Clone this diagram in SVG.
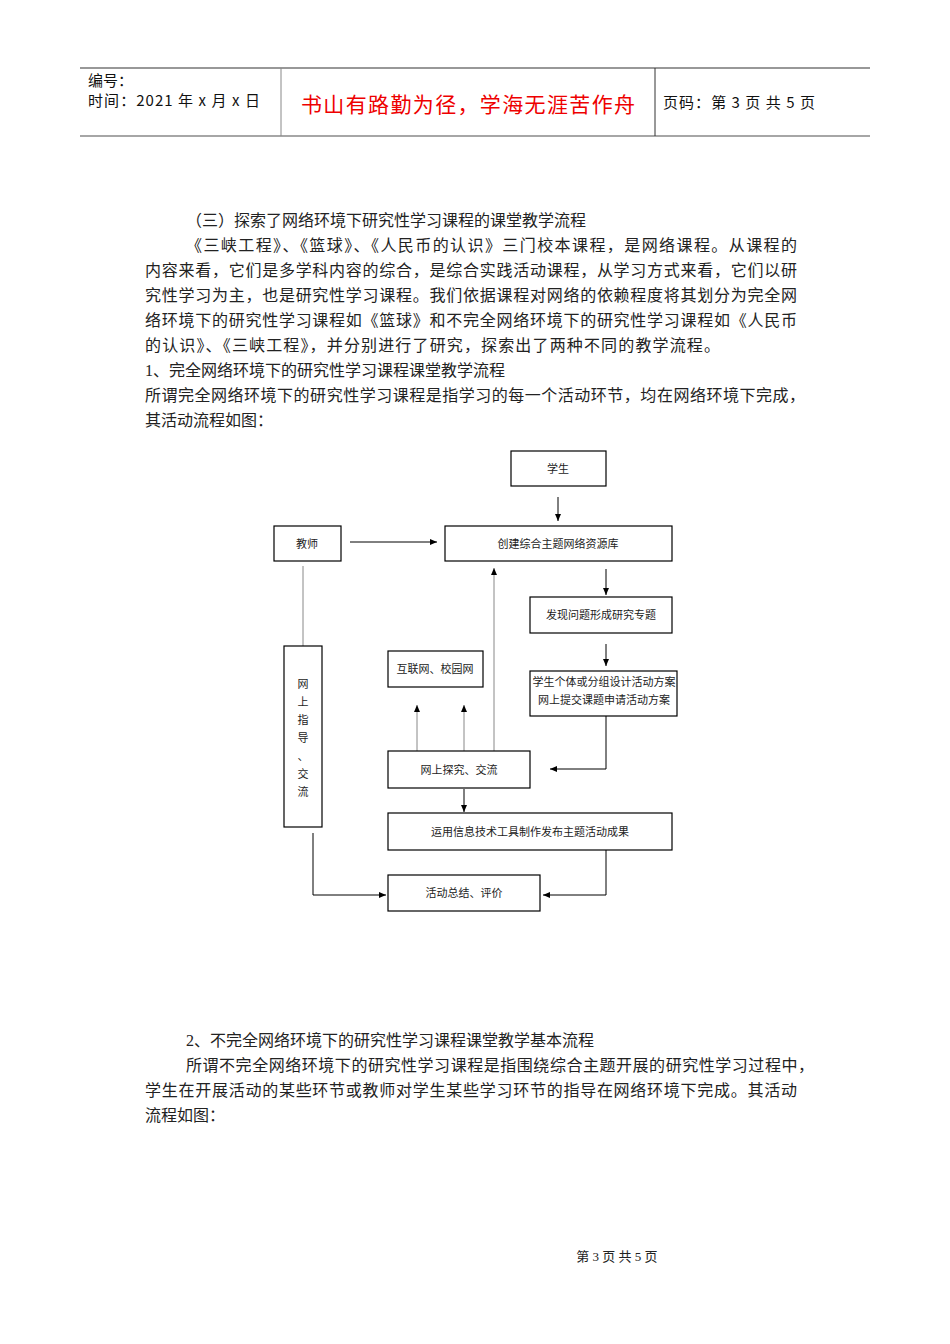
<svg xmlns="http://www.w3.org/2000/svg" width="950" height="1344" viewBox="0 0 950 1344">
<style>
.b{fill:#fff;stroke:#000;stroke-width:1.2}
.t{font-family:"Liberation Serif","Noto Sans CJK SC",serif;font-size:16px;fill:#222}
.s{font-family:"Noto Sans CJK SC",sans-serif;font-size:11px;fill:#222;text-anchor:middle}
.h{font-family:"Noto Sans CJK SC",sans-serif;font-size:15px;fill:#111}
.l{stroke:#000;stroke-width:1;fill:none}
.g{stroke:#888;stroke-width:1;fill:none}
</style>
<defs><marker id="a" markerWidth="8" markerHeight="8" refX="7" refY="4" orient="auto" markerUnits="userSpaceOnUse"><path d="M0,1 L7,4 L0,7z" fill="#000"/></marker></defs>
<rect width="950" height="1344" fill="#fff"/>
<g id="header">
<line x1="80" y1="68" x2="870" y2="68" stroke="#333" stroke-width="1.2"/>
<line x1="80" y1="136" x2="870" y2="136" stroke="#888" stroke-width="1.5"/>
<line x1="281" y1="68" x2="281" y2="136" stroke="#888"/>
<line x1="655" y1="68" x2="655" y2="136" stroke="#333"/>
<text class="h" x="88" y="86">编号：</text>
<text class="h" x="88" y="106" textLength="172">时间：2021 年 x 月 x 日</text>
<text x="301" y="112" font-family="Noto Sans CJK SC,sans-serif" font-size="21" fill="#e00" textLength="334">书山有路勤为径，学海无涯苦作舟</text>
<text class="h" x="663" y="108" textLength="152">页码：第 3 页  共 5 页</text>
</g>
<g id="body" class="t">
<text x="186" y="226">（三）探索了网络环境下研究性学习课程的课堂教学流程</text>
<text x="186" y="251" textLength="611">《三峡工程》、《篮球》、《人民币的认识》三门校本课程，是网络课程。从课程的</text>
<text x="145" y="276" textLength="652">内容来看，它们是多学科内容的综合，是综合实践活动课程，从学习方式来看，它们以研</text>
<text x="145" y="301" textLength="652">究性学习为主，也是研究性学习课程。我们依据课程对网络的依赖程度将其划分为完全网</text>
<text x="145" y="326" textLength="652">络环境下的研究性学习课程如《篮球》和不完全网络环境下的研究性学习课程如《人民币</text>
<text x="145" y="351" textLength="575">的认识》、《三峡工程》，并分别进行了研究，探索出了两种不同的教学流程。</text>
<text x="145" y="376">1、完全网络环境下的研究性学习课程课堂教学流程</text>
<text x="145" y="401" textLength="660">所谓完全网络环境下的研究性学习课程是指学习的每一个活动环节，均在网络环境下完成，</text>
<text x="145" y="426">其活动流程如图：</text>
<text x="186" y="1046">2、不完全网络环境下的研究性学习课程课堂教学基本流程</text>
<text x="186" y="1071" textLength="628">所谓不完全网络环境下的研究性学习课程是指围绕综合主题开展的研究性学习过程中，</text>
<text x="145" y="1096" textLength="652">学生在开展活动的某些环节或教师对学生某些学习环节的指导在网络环境下完成。其活动</text>
<text x="145" y="1121">流程如图：</text>
<text x="617" y="1261" font-size="13" text-anchor="middle">第 3 页 共 5 页</text>
</g>
<g id="connectors">
<line class="l" x1="558" y1="497" x2="558" y2="521" marker-end="url(#a)"/>
<line class="l" x1="350" y1="542" x2="437" y2="542" marker-end="url(#a)"/>
<line class="l" x1="606" y1="569" x2="606" y2="595" marker-end="url(#a)"/>
<line class="l" x1="606" y1="644" x2="606" y2="666" marker-end="url(#a)"/>
<line class="g" x1="494" y1="752" x2="494" y2="568" marker-end="url(#a)"/>
<line class="g" x1="417" y1="752" x2="417" y2="705" marker-end="url(#a)"/>
<line class="g" x1="464" y1="752" x2="464" y2="705" marker-end="url(#a)"/>
<polyline class="l" points="606,716 606,769 550,769" marker-end="url(#a)"/>
<line class="l" x1="464" y1="789" x2="464" y2="812" marker-end="url(#a)"/>
<polyline class="l" points="606,850 606,895 543,895" marker-end="url(#a)"/>
<polyline class="l" points="313,833 313,895 386,895" marker-end="url(#a)"/>
<line class="g" x1="303" y1="566" x2="303" y2="646"/>
</g>
<g id="n1"><rect class="b" x="511" y="451" width="95" height="35"/><text class="s" x="558" y="473">学生</text></g>
<g id="n2"><rect class="b" x="274" y="526" width="67" height="35"/><text class="s" x="307" y="548">教师</text></g>
<g id="n3"><rect class="b" x="445" y="526" width="227" height="35"/><text class="s" x="558" y="548">创建综合主题网络资源库</text></g>
<g id="n4"><rect class="b" x="530" y="597" width="142" height="36"/><text class="s" x="601" y="619">发现问题形成研究专题</text></g>
<g id="n5"><rect class="b" x="388" y="651" width="95" height="36"/><text class="s" x="435" y="673">互联网、校园网</text></g>
<g id="n6"><rect class="b" x="530" y="671" width="147" height="45"/><text class="s" x="604" y="686">学生个体或分组设计活动方案</text><text class="s" x="604" y="704">网上提交课题申请活动方案</text></g>
<g id="n7"><rect class="b" x="284" y="646" width="38" height="181"/>
<g class="s"><text x="303" y="688">网</text><text x="303" y="706">上</text><text x="303" y="724">指</text><text x="303" y="742">导</text><text x="303" y="760">、</text><text x="303" y="778">交</text><text x="303" y="796">流</text></g></g>
<g id="n8"><rect class="b" x="388" y="751" width="142" height="37"/><text class="s" x="459" y="774">网上探究、交流</text></g>
<g id="n9"><rect class="b" x="388" y="813" width="284" height="37"/><text class="s" x="530" y="836">运用信息技术工具制作发布主题活动成果</text></g>
<g id="n10"><rect class="b" x="388" y="875" width="152" height="36"/><text class="s" x="464" y="897">活动总结、评价</text></g>
</svg>
